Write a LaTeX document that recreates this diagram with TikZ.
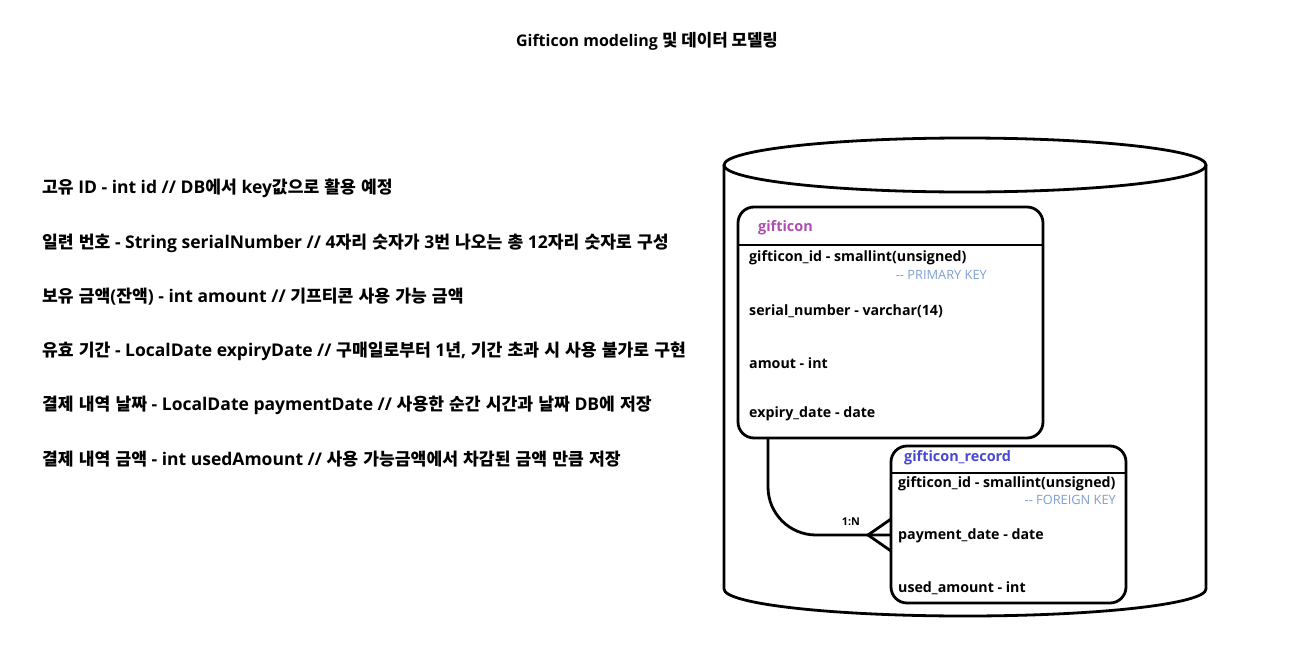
\documentclass[tikz,border=0pt]{standalone}
\usepackage{fontspec}
\setmainfont{Open Sans}
\newfontfamily\cjk{Noto Sans CJK KR Bold}[Scale=0.98]
\newfontfamily\cjkt{Noto Sans CJK KR Bold}[Scale=1.05]
\newcommand\hk[1]{{\cjk\spaceskip=0.3em\relax #1}}
\newcommand\hkt[1]{{\cjkt #1}}
\begin{document}
\begin{tikzpicture}[x=1pt,y=-1pt,
  txt/.style={anchor=west,inner sep=0pt,font=\fontsize{17.5}{19}\selectfont\bfseries},
  field/.style={anchor=west,inner sep=0pt,font=\fontsize{14.2}{16}\selectfont\bfseries},
  etitle/.style={anchor=west,inner sep=0pt,font=\fontsize{14.4}{16}\selectfont\bfseries},
  keynote/.style={anchor=east,inner sep=0pt,font=\fontsize{12.8}{14}\selectfont,text=keyblue},
  entity/.style={draw=black,line width=2.8pt,rounded corners=16pt},
  thick line/.style={line width=2.8pt}]
\definecolor{keyblue}{HTML}{7F9FD0}
\definecolor{titlepurple}{HTML}{AE4FAE}
\definecolor{titleblue}{HTML}{4848D6}
\useasboundingbox[fill=white] (0,0) rectangle (1293,648);

\node[inner sep=0pt,font=\fontsize{16}{17}\selectfont\bfseries] (title) at (647,41) {Gifticon modeling \hkt{및 데이터 모델링}};

\node[txt] (l1) at (42,188) {\hk{고유} ID - int id // DB\hk{에서} key\hk{값으로 활용 예정}};
\node[txt] (l2) at (42,243) {\hk{일련 번호} - String serialNumber // 4\hk{자리 숫자가} 3\hk{번 나오는 총} 12\hk{자리 숫자로 구성}};
\node[txt] (l3) at (42,297) {\hk{보유 금액}(\hk{잔액}) - int amount // \hk{기프티콘 사용 가능 금액}};
\node[txt] (l4) at (42,351) {\hk{유효 기간} - LocalDate expiryDate // \hk{구매일로부터} 1\hk{년}, \hk{기간 초과 시 사용 불가로 구현}};
\node[txt] (l5) at (42,405) {\hk{결제 내역 날짜} - LocalDate paymentDate // \hk{사용한 순간 시간과 날짜} DB\hk{에 저장}};
\node[txt] (l6) at (42,459) {\hk{결제 내역 금액} - int usedAmount // \hk{사용 가능금액에서 차감된 금액 만큼 저장}};

% cylinder
\draw[thick line] (965,165) ellipse [x radius=241, y radius=27];
\draw[thick line] (724,165) -- (724,589) arc[start angle=180,end angle=0,x radius=241,y radius=27] -- (1206,165);

% gifticon entity
\draw[entity,fill=white] (738,207) rectangle (1043,438);
\draw[thick line] (738,245) -- (1043,245);
\node[etitle,text=titlepurple] (gt) at (758,228) {gifticon};
\node[field] (g1) at (749,258) {gifticon\_id - smallint(unsigned)};
\node[keynote] (g1k) at (987,275) {-{}- PRIMARY KEY};
\node[field] (g2) at (749,311) {serial\_number - varchar(14)};
\node[field] (g3) at (749,363) {amout - int};
\node[field] (g4) at (749,414) {expiry\_date - date};
\coordinate (gbot) at (768,438);

% gifticon_record entity
\draw[entity,fill=white] (891,446) rectangle (1126,603);
\draw[thick line] (891,473) -- (1126,473);
\node[etitle,text=titleblue] (rt) at (904,458) {gifticon\_record};
\node[field] (r1) at (898,484) {gifticon\_id - smallint(unsigned)};
\node[keynote] (r1k) at (1116,500) {-{}- FOREIGN KEY};
\node[field] (r2) at (898,536) {payment\_date - date};
\node[field] (r3) at (898,588) {used\_amount - int};

% relation
\coordinate (rin) at (891,535);
\coordinate (crow) at (868,535);
\coordinate (cu) at (891,519);
\coordinate (cl) at (891,551);
\draw[thick line,rounded corners=48pt] (gbot) -- (768,535) -- (rin);
\draw[thick line] (cu) -- (crow) -- (cl);
\node[inner sep=0pt,font=\fontsize{10.8}{12}\selectfont\bfseries] (card) at (851,522) {1:N};
\end{tikzpicture}
\end{document}
